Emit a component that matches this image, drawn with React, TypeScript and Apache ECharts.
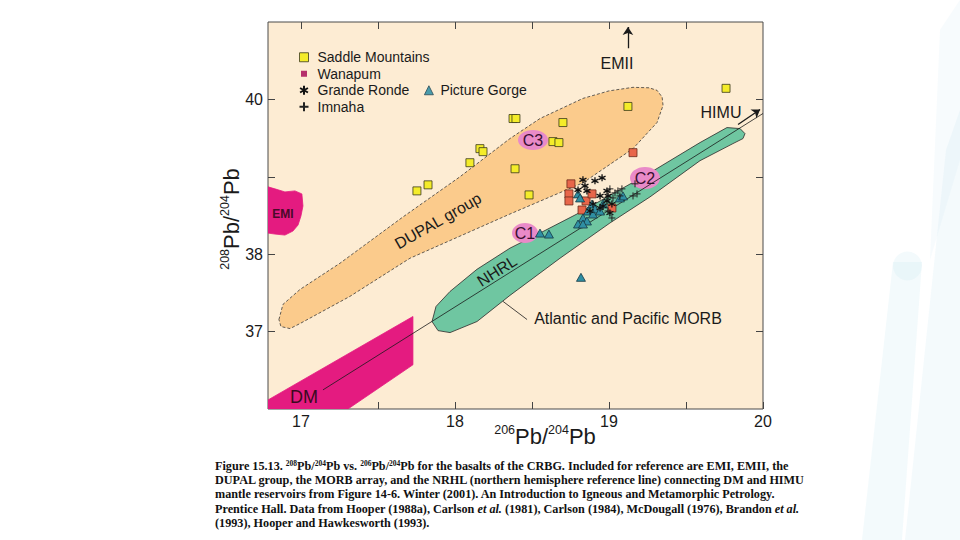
import React, { useEffect, useRef } from "react";
import * as echarts from "echarts";

// ---- axes ----
const X_MIN = 16.786;
const X_MAX = 20;
const Y_MIN = 36;
const Y_MAX = 41;
const xTickValues = [17, 17.5, 18, 18.5, 19, 19.5, 20];
const xTopTickValues = [17, 17.5, 18, 18.5, 19, 19.5];
const xLabelValues = [17, 18, 19, 20];
const yTickValues = [37, 38, 39, 40];
const yLabelValues = [37, 38, 40];

// ---- data series (206Pb/204Pb, 208Pb/204Pb) ----
const saddleMountains = [
  [17.753, 38.818], [17.825, 38.896], [18.097, 39.182], [18.162, 39.364], [18.182, 39.325],
  [18.377, 39.753], [18.396, 39.753], [18.701, 39.701], [18.636, 39.455], [18.675, 39.442],
  [18.39, 39.104], [18.481, 38.766], [19.123, 39.909], [19.76, 40.143],
];
const wanapum = [
  [19.156, 39.312], [18.753, 38.909], [18.74, 38.779], [18.74, 38.688], [18.851, 38.688],
  [18.89, 38.779], [18.825, 38.571], [19.019, 38.597],
];
const grandeRonde = [
  [18.831, 38.961], [18.844, 38.883], [18.909, 38.948], [18.955, 38.987], [18.799, 38.831],
  [18.857, 38.818], [18.942, 38.753], [18.987, 38.818], [18.994, 38.753], [18.987, 38.688],
  [19.019, 38.649], [18.896, 38.649], [18.961, 38.623], [18.942, 38.597], [19.006, 38.532],
  [18.877, 38.558],
];
const pictureGorge = [
  [18.799, 38.779], [18.812, 38.727], [18.89, 38.649], [18.909, 38.584], [18.864, 38.558],
  [18.896, 38.519], [18.942, 38.558], [18.831, 38.468], [18.857, 38.429], [18.799, 38.39],
  [18.831, 38.39], [18.961, 38.649], [19.071, 38.727], [19.091, 38.753], [18.552, 38.273],
  [18.61, 38.26], [18.818, 37.701],
];
const imnaha = [
  [19.006, 38.844], [19.058, 38.818], [19.084, 38.844], [19.026, 38.727], [19.071, 38.753],
  [19.039, 38.792], [18.994, 38.558], [19.019, 38.468], [19.169, 38.909], [19.182, 38.779],
  [19.156, 38.753],
];

// ---- reference fields (outlines in data units) ----
const dupalGroup = [
  [16.857, 37.156], [16.883, 37.351], [16.994, 37.545], [17.253, 37.883], [17.662, 38.481],
  [18.032, 39.0], [18.357, 39.494], [18.552, 39.753], [18.831, 40.013], [19.0, 40.11],
  [19.156, 40.156], [19.26, 40.15], [19.312, 40.117], [19.345, 40.03], [19.351, 39.922],
  [19.312, 39.701], [19.156, 39.364], [18.831, 38.922], [18.357, 38.519], [17.708, 37.948],
  [17.318, 37.455], [16.994, 37.104], [16.929, 37.039], [16.87, 37.065],
];
const morbArray = [
  [17.851, 37.13], [17.877, 37.325], [17.968, 37.519], [18.143, 37.805], [18.357, 38.078],
  [18.552, 38.273], [18.792, 38.519], [19.266, 39.052], [19.591, 39.442], [19.766, 39.636],
  [19.851, 39.623], [19.883, 39.558], [19.87, 39.494], [19.805, 39.429], [19.591, 39.208],
  [19.266, 38.74], [19.006, 38.403], [18.682, 37.948], [18.357, 37.468], [18.143, 37.13],
  [17.968, 36.987], [17.89, 37.013],
];
const emiField = [
  [16.786, 38.87], [16.831, 38.844], [16.896, 38.805], [16.961, 38.818], [17.006, 38.779],
  [17.013, 38.623], [17.0, 38.494], [16.981, 38.377], [16.948, 38.299], [16.896, 38.247],
  [16.831, 38.26], [16.786, 38.273],
];
const dmField = [
  [16.786, 36.117], [17.727, 37.195], [17.727, 36.571], [17.305, 36.0], [16.786, 36.0],
];
const nhrlLine = [[17.143, 36.247], [20.0, 39.818]];
const himuArrow = [[19.838, 39.675], [19.981, 39.87]];
const emiiArrow = [[19.123, 40.662], [19.123, 40.935]];
const morbLeader = [[18.312, 37.39], [18.468, 37.156]];

const SANS = '"Liberation Sans", Arial, Helvetica, sans-serif';
const SERIF = '"Liberation Serif", "Times New Roman", serif';

const captionLines = [
  "{b|Figure 15.13. }{s|208}{b|Pb/}{s|204}{b|Pb vs. }{s|206}{b|Pb/}{s|204}{b|Pb for the basalts of the CRBG. Included for reference are EMI, EMII, the}",
  "{b|DUPAL group, the MORB array, and the NRHL (northern hemisphere reference line) connecting DM and HIMU}",
  "{b|mantle reservoirs from Figure 14-6. Winter (2001). An Introduction to Igneous and Metamorphic Petrology.}",
  "{b|Prentice Hall. Data from Hooper (1988a), Carlson }{i|et al.}{b| (1981), Carlson (1984), McDougall (1976), Brandon }{i|et al.}",
  "{b|(1993), Hooper and Hawkesworth (1993).}",
];

function polygonSeries(name: string, pts: number[][], fill: string, stroke: string, dashed: boolean, z: number) {
  return {
    type: "custom",
    name,
    silent: true,
    z,
    clip: true,
    coordinateSystem: "cartesian2d",
    data: [pts[0]],
    renderItem: (_params: any, api: any) => ({
      type: "polygon",
      shape: { points: pts.map((p) => api.coord(p)) },
      style: {
        fill,
        stroke,
        lineWidth: 0.8,
        lineDash: dashed ? [3, 2] : null,
      },
    }),
  };
}

function arrowSeries(name: string, coords: number[][], head: boolean) {
  return {
    type: "lines",
    name,
    silent: true,
    coordinateSystem: "cartesian2d",
    z: 4,
    symbol: head ? ["none", "arrow"] : ["none", "none"],
    symbolSize: 8,
    lineStyle: { color: "#1a1a1a", width: head ? 1.3 : 0.8, opacity: 1 },
    data: [{ coords }],
  };
}

export default function App() {
  const ref = useRef<HTMLDivElement>(null);
  useEffect(() => {
    if (!ref.current) return;
    const chart = echarts.init(ref.current, undefined, { renderer: "svg" });
    const axisTickStyle = { color: "#444", width: 1 };
    const titleRich = {
      s: { fontFamily: SANS, fontSize: 12.5, lineHeight: 14, verticalAlign: "top" },
      m: { fontFamily: SANS, fontSize: 22, lineHeight: 26 },
    };
    const legendText = { fontSize: 14, fontFamily: SANS, color: "#1a1a1a", lineHeight: 16.5 };
    const option: any = {
      animation: false,
      backgroundColor: "#ffffff",
      grid: {
        left: 268,
        right: 197,
        top: 22,
        bottom: 131,
        show: true,
        backgroundColor: "#FDECD3",
        borderColor: "#4a4a4a",
        borderWidth: 1,
      },
      xAxis: [
        {
          type: "value",
          min: X_MIN,
          max: X_MAX,
          position: "bottom",
          axisLine: { show: false },
          splitLine: { show: false },
          axisTick: { show: true, inside: true, length: 7, customValues: xTickValues, lineStyle: axisTickStyle },
          axisLabel: { customValues: xLabelValues, fontSize: 16, fontFamily: SANS, color: "#1a1a1a", margin: 4 },
        },
        {
          type: "value",
          min: X_MIN,
          max: X_MAX,
          position: "top",
          axisLine: { show: false },
          splitLine: { show: false },
          axisTick: { show: true, inside: true, length: 7, customValues: xTopTickValues, lineStyle: axisTickStyle },
          axisLabel: { show: false },
        },
      ],
      yAxis: [
        {
          type: "value",
          min: Y_MIN,
          max: Y_MAX,
          interval: 1,
          position: "left",
          axisLine: { show: false },
          splitLine: { show: false },
          axisTick: { show: true, inside: true, length: 7, customValues: yTickValues, lineStyle: axisTickStyle },
          axisLabel: { customValues: yLabelValues, fontSize: 16, fontFamily: SANS, color: "#1a1a1a", margin: 5 },
        },
        {
          type: "value",
          min: Y_MIN,
          max: Y_MAX,
          interval: 1,
          position: "right",
          axisLine: { show: false },
          splitLine: { show: false },
          axisTick: { show: true, inside: true, length: 7, customValues: yTickValues, lineStyle: axisTickStyle },
          axisLabel: { show: false },
        },
      ],
      legend: [
        {
          orient: "vertical",
          left: 298,
          top: 49,
          padding: 0,
          itemWidth: 9,
          itemHeight: 9,
          itemGap: 0,
          selectedMode: false,
          textStyle: { ...legendText, padding: [0, 0, 0, 4] },
          data: [
            { name: "Saddle Mountains", icon: "rect", itemStyle: { color: "#F4EC2A", borderColor: "#3a3a1a", borderWidth: 0.8 } },
            { name: "Wanapum", icon: "rect", itemStyle: { color: "#B5306A", borderColor: "#FDECD3", borderWidth: 3 } },
            { name: "Grande Ronde" },
            { name: "Imnaha" },
          ],
        },
        {
          orient: "horizontal",
          left: 424,
          top: 82,
          padding: 0,
          itemWidth: 9,
          itemHeight: 9,
          selectedMode: false,
          textStyle: { ...legendText, padding: [0, 0, 0, 2] },
          data: [{ name: "Picture Gorge", icon: "triangle", itemStyle: { color: "#4A9CAC", borderColor: "#2a4a55", borderWidth: 0.8 } }],
        },
      ],
      series: [
        polygonSeries("DUPAL group", dupalGroup, "#FBCB8C", "#3a3a3a", true, 1),
        polygonSeries("Atlantic and Pacific MORB", morbArray, "#6FC6A1", "#2a2a2a", false, 1),
        polygonSeries("EMI", emiField, "#E41B80", "#E41B80", false, 1),
        polygonSeries("DM", dmField, "#E41B80", "#E41B80", false, 1),
        arrowSeries("NHRL", nhrlLine, false),
        arrowSeries("HIMU arrow", himuArrow, true),
        arrowSeries("EMII arrow", emiiArrow, true),
        arrowSeries("MORB leader", morbLeader, false),
        {
          type: "scatter",
          name: "Wanapum",
          z: 5,
          data: wanapum,
          symbol: "rect",
          symbolSize: 8,
          itemStyle: { color: "#E8664A", borderColor: "#6a2a1a", borderWidth: 0.8, opacity: 1 },
        },
        {
          type: "scatter",
          name: "Picture Gorge",
          z: 6,
          data: pictureGorge,
          symbol: "triangle",
          symbolSize: [9, 8],
          itemStyle: { color: "#2F8FA3", borderColor: "#163845", borderWidth: 0.8, opacity: 1 },
        },
        {
          type: "scatter",
          name: "Grande Ronde",
          z: 7,
          data: grandeRonde,
          symbol: "path://M4,0L4,8M0.5,2L7.5,6M0.5,6L7.5,2",
          symbolSize: 7,
          itemStyle: { color: "rgba(0,0,0,0)", borderColor: "#111111", borderWidth: 1.3, opacity: 1 },
        },
        {
          type: "scatter",
          name: "Imnaha",
          z: 7,
          data: imnaha,
          symbol: "path://M4,0L4,8M0,4L8,4",
          symbolSize: 7,
          itemStyle: { color: "rgba(0,0,0,0)", borderColor: "#222222", borderWidth: 1, opacity: 1 },
        },
        {
          type: "scatter",
          name: "Saddle Mountains",
          z: 8,
          data: saddleMountains,
          symbol: "rect",
          symbolSize: 8,
          itemStyle: { color: "#F4EC2A", borderColor: "#3a3a1a", borderWidth: 0.8, opacity: 1 },
        },
      ],
      graphic: [
        // slide decoration on the right
        { type: "polygon", z: 0, silent: true, shape: { points: [[893, 262], [922, 262], [902, 540], [862, 540]] }, style: { fill: "rgba(200,230,242,0.22)" } },
        { type: "circle", z: 0, silent: true, shape: { cx: 907.5, cy: 266, r: 14.5 }, style: { fill: "rgba(200,230,242,0.22)" } },
        { type: "polygon", z: 0, silent: true, shape: { points: [[946, 150], [960, 110], [960, 540], [905, 540]] }, style: { fill: "rgba(200,230,242,0.2)" } },
        { type: "polygon", z: 0, silent: true, shape: { points: [[940, 30], [960, 0], [960, 160], [930, 260]] }, style: { fill: "rgba(205,232,244,0.16)" } },
        // C labels (under the data marks)
        { type: "ellipse", z: 3, silent: true, shape: { cx: 533, cy: 140, rx: 15, ry: 10 }, style: { fill: "#E98AC8" } },
        { type: "text", z: 3, silent: true, x: 533, y: 140, style: { text: "C3", font: `16px ${SANS}`, fill: "#3a1030", textAlign: "center", textVerticalAlign: "middle" } },
        { type: "ellipse", z: 3, silent: true, shape: { cx: 645, cy: 178, rx: 15, ry: 11 }, style: { fill: "#E98AC8" } },
        { type: "text", z: 3, silent: true, x: 645, y: 178, style: { text: "C2", font: `16px ${SANS}`, fill: "#3a1030", textAlign: "center", textVerticalAlign: "middle" } },
        { type: "ellipse", z: 3, silent: true, shape: { cx: 525, cy: 233, rx: 13, ry: 10 }, style: { fill: "#E98AC8" } },
        { type: "text", z: 3, silent: true, x: 525, y: 233, style: { text: "C1", font: `16px ${SANS}`, fill: "#3a1030", textAlign: "center", textVerticalAlign: "middle" } },
        // annotations
        { type: "text", z: 51, silent: true, x: 617, y: 63, style: { text: "EMII", font: `16px ${SANS}`, fill: "#1a1a1a", textAlign: "center", textVerticalAlign: "middle" } },
        { type: "text", z: 51, silent: true, x: 721, y: 112, style: { text: "HIMU", font: `16px ${SANS}`, fill: "#1a1a1a", textAlign: "center", textVerticalAlign: "middle" } },
        { type: "text", z: 51, silent: true, x: 628, y: 318, style: { text: "Atlantic and Pacific MORB", font: `16px ${SANS}`, fill: "#1a1a1a", textAlign: "center", textVerticalAlign: "middle" } },
        { type: "text", z: 51, silent: true, x: 304, y: 397, style: { text: "DM", font: `18px ${SANS}`, fill: "#3a0a20", textAlign: "center", textVerticalAlign: "middle" } },
        { type: "text", z: 51, silent: true, x: 283, y: 214, style: { text: "EMI", font: `bold 12px ${SANS}`, fill: "#4a0a28", textAlign: "center", textVerticalAlign: "middle" } },
        { type: "text", z: 51, silent: true, x: 438, y: 221, rotation: 0.52, style: { text: "DUPAL group", font: `16px ${SANS}`, fill: "#1a1a1a", textAlign: "center", textVerticalAlign: "middle" } },
        { type: "text", z: 51, silent: true, x: 497, y: 271, rotation: 0.56, style: { text: "NHRL", font: `16px ${SANS}`, fill: "#1a1a1a", textAlign: "center", textVerticalAlign: "middle" } },
        // x axis title
        {
          type: "text", z: 51, silent: true, x: 545, y: 436,
          style: {
            text: "{s|206}{m|Pb/}{s|204}{m|Pb}",
            fill: "#1a1a1a",
            textAlign: "center",
            textVerticalAlign: "middle",
            rich: titleRich,
          },
        },
        // y axis title
        {
          type: "text", z: 51, silent: true, x: 231, y: 219, rotation: Math.PI / 2,
          style: {
            text: "{s|208}{m|Pb/}{s|204}{m|Pb}",
            fill: "#1a1a1a",
            textAlign: "center",
            textVerticalAlign: "middle",
            rich: titleRich,
          },
        },
        // caption
        ...captionLines.map((t, i) => ({
          type: "text",
          z: 51,
          silent: true,
          x: 215,
          y: 466 + i * 14.2,
          style: {
            text: t,
            fill: "#111111",
            textAlign: "left",
            textVerticalAlign: "middle",
            rich: {
              b: { fontFamily: SERIF, fontWeight: "bold", fontSize: 12.2, lineHeight: 14 },
              i: { fontFamily: SERIF, fontWeight: "bold", fontStyle: "italic", fontSize: 12.2, lineHeight: 14 },
              s: { fontFamily: SERIF, fontWeight: "bold", fontSize: 7.5, lineHeight: 9, verticalAlign: "top" },
            },
          },
        })),
      ],
    };
    chart.setOption(option);
    return () => chart.dispose();
  }, []);
  return (
    <div
      ref={ref}
      style={{ position: "absolute", left: 0, top: 0, width: 960, height: 540, background: "#ffffff" }}
    />
  );
}
